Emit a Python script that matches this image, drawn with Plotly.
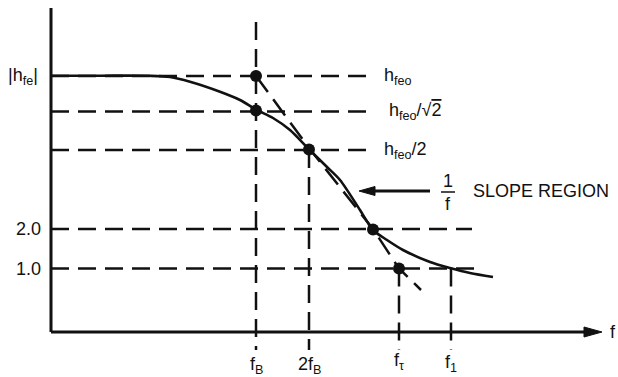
import plotly.graph_objects as go

# ---- schematic data (arbitrary units: 1 unit ~ 1 px, origin at axes corner) ----
# frequency positions on the f axis
freq_names = ["f<sub>B</sub>", "2f<sub>B</sub>", "f<sub>τ</sub>", "f<sub>1</sub>"]
freq_pos = [205, 258, 348, 400]

# |hfe| reference levels
level_names = ["h<sub>feo</sub>", "h<sub>feo</sub>/√<span style='text-decoration:overline'>2</span>",
               "h<sub>feo</sub>/2", "2.0", "1.0"]
level_val = [256, 220.5, 182, 103, 63.5]
level_end = [321, 319, 321, 421, 429]   # where each dashed level line stops

# |hfe| vs f response curve
curve_f = [0, 49, 99, 119, 139, 169, 189, 205, 222, 239, 258, 276, 289, 309, 322, 336, 352, 379, 399, 419, 442]
curve_h = [256.3, 256.3, 256.2, 255, 250.3, 240.3, 232, 222.5, 214, 202, 182.7, 165, 152, 122, 102, 92, 82, 70, 64, 59, 55]

# -1 slope asymptote (dashed)
asym_f = [205, 258, 322, 348, 370]
asym_h = [256, 184, 103, 63.5, 42]

# marked points
dot_f = [205, 205, 258, 322, 348]
dot_h = [256, 221.5, 182.5, 102.5, 63.5]

# axes extents
x_axis_end = 551
y_axis_top = 324
vline_top = [310, 182, 63.5, 63.5]
vline_bottom = -18

BLACK = "#111111"
FONT = "Liberation Sans, Arial, sans-serif"
DASH = "18px,9px"
FS = 18

fig = go.Figure()

# dashed horizontal level lines
for v, e in zip(level_val, level_end):
    fig.add_trace(go.Scatter(x=[0, e], y=[v, v], mode="lines",
                             line=dict(color=BLACK, width=2.5, dash=DASH), hoverinfo="skip"))

# dashed vertical frequency lines
for f, t in zip(freq_pos, vline_top):
    fig.add_trace(go.Scatter(x=[f, f], y=[t, vline_bottom], mode="lines",
                             line=dict(color=BLACK, width=2.5, dash=DASH), hoverinfo="skip"))

# asymptote
fig.add_trace(go.Scatter(x=asym_f, y=asym_h, mode="lines",
                         line=dict(color=BLACK, width=2.5, dash="20px,9px"), hoverinfo="skip"))

# response curve
fig.add_trace(go.Scatter(x=curve_f, y=curve_h, mode="lines",
                         line=dict(color=BLACK, width=2.6, shape="spline", smoothing=0.8),
                         hoverinfo="skip"))

# axes
fig.add_trace(go.Scatter(x=[0, 0], y=[y_axis_top, 0], mode="lines",
                         line=dict(color=BLACK, width=3), hoverinfo="skip"))
head_len, head_half = 18, 5
fig.add_trace(go.Scatter(x=[0, x_axis_end - head_len + 2], y=[0, 0], mode="lines",
                         line=dict(color=BLACK, width=3), hoverinfo="skip"))
fig.add_trace(go.Scatter(x=[x_axis_end - head_len, x_axis_end, x_axis_end - head_len, x_axis_end - head_len],
                         y=[head_half, 0, -head_half, head_half], mode="lines", fill="toself",
                         fillcolor=BLACK, line=dict(color=BLACK, width=1), hoverinfo="skip"))

# slope-region arrow
arrow_tail, arrow_tip, arrow_y = 379, 308, 141
ah_len, ah_half = 16, 4.5
fig.add_trace(go.Scatter(x=[arrow_tail, arrow_tip + ah_len - 2], y=[arrow_y, arrow_y], mode="lines",
                         line=dict(color=BLACK, width=3), hoverinfo="skip"))
fig.add_trace(go.Scatter(x=[arrow_tip + ah_len, arrow_tip, arrow_tip + ah_len, arrow_tip + ah_len],
                         y=[arrow_y + ah_half, arrow_y, arrow_y - ah_half, arrow_y + ah_half],
                         mode="lines", fill="toself", fillcolor=BLACK,
                         line=dict(color=BLACK, width=1), hoverinfo="skip"))
# fraction bar of 1/f
frac_x = 397
fig.add_trace(go.Scatter(x=[frac_x - 7, frac_x + 7], y=[arrow_y - 1, arrow_y - 1], mode="lines",
                         line=dict(color=BLACK, width=1.5), hoverinfo="skip"))

# dots
fig.add_trace(go.Scatter(x=dot_f, y=dot_h, mode="markers",
                         marker=dict(color=BLACK, size=12), hoverinfo="skip"))

ann = []
def txt(x, y, s, xa="left", ya="middle", size=FS):
    ann.append(dict(x=x, y=y, xref="x", yref="y", text=s, showarrow=False,
                    xanchor=xa, yanchor=ya, font=dict(family=FONT, size=size, color=BLACK)))

# level labels
txt(331, level_val[0], level_names[0])
txt(336, level_val[1], level_names[1])
txt(331, level_val[2], level_names[2])
txt(-8, level_val[3], level_names[3], xa="right")
txt(-8, level_val[4], level_names[4], xa="right")
txt(-11, level_val[0], "|h<sub>fe</sub>|", xa="right")

# frequency labels
label_y = [-33, -33, -29, -31]
for f, n, ly in zip(freq_pos, freq_names, label_y):
    txt(f, ly, n, xa="center")
txt(562, 0, "f", xa="center")

# slope region text
txt(frac_x, arrow_y + 10, "1", xa="center")
txt(frac_x, arrow_y - 13, "f", xa="center")
txt(420, arrow_y, "SLOPE REGION")

fig.update_layout(
    width=618, height=377, margin=dict(l=0, r=0, t=0, b=0),
    paper_bgcolor="white", plot_bgcolor="white", showlegend=False,
    xaxis=dict(range=[-51, 567], visible=False, fixedrange=True),
    yaxis=dict(range=[-45, 332], visible=False, fixedrange=True),
    annotations=ann,
)

fig.write_html("out.html")
